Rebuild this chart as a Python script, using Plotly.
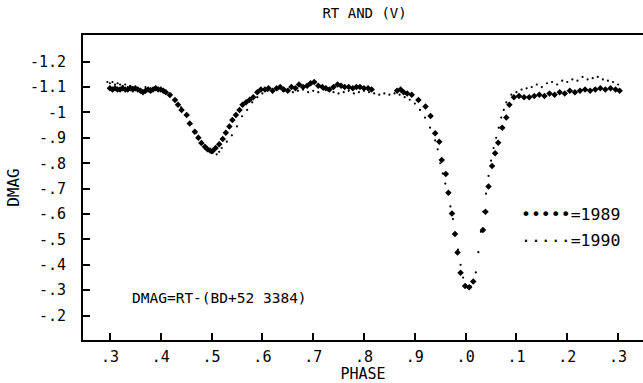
import plotly.graph_objects as go

# ---- data ----
phase_1989 = [0.300, 0.305, 0.310, 0.315, 0.320, 0.325, 0.330, 0.335, 0.340, 0.345,
              0.350, 0.355, 0.360, 0.365, 0.370, 0.375, 0.380, 0.385, 0.390, 0.395,
              0.400, 0.405, 0.410, 0.418, 0.428, 0.434, 0.441, 0.451, 0.457, 0.467,
              0.474, 0.480, 0.487, 0.492, 0.497, 0.502, 0.508, 0.515, 0.522, 0.528,
              0.535, 0.541, 0.548, 0.555, 0.561, 0.568, 0.575, 0.582, 0.590, 0.597,
              0.605, 0.612, 0.620, 0.628, 0.635, 0.642, 0.650, 0.657, 0.665, 0.672,
              0.680, 0.688, 0.695, 0.702, 0.710, 0.718, 0.725, 0.732, 0.740, 0.748,
              0.755, 0.762, 0.770, 0.778, 0.785, 0.792, 0.800, 0.808, 0.815, 0.865,
              0.872, 0.878, 0.885, 0.894, 0.907, 0.921, 0.931, 0.940, 0.948, 0.953,
              0.961, 0.966, 0.973, 0.979, 0.984, 0.990, 0.999, 1.007, 1.015, 1.034,
              1.039, 1.045, 1.052, 1.058, 1.064, 1.072, 1.080, 1.086, 1.095, 1.105,
              1.115, 1.125, 1.135, 1.145, 1.155, 1.165, 1.175, 1.185, 1.195, 1.205,
              1.215, 1.225, 1.235, 1.245, 1.255, 1.265, 1.275, 1.285, 1.295, 1.303]
dmag_1989 = [-1.095, -1.090, -1.095, -1.090, -1.090, -1.095, -1.090, -1.090, -1.095, -1.090,
             -1.095, -1.090, -1.085, -1.080, -1.085, -1.090, -1.085, -1.090, -1.095, -1.090,
             -1.090, -1.085, -1.080, -1.069, -1.049, -1.030, -1.010, -0.990, -0.957, -0.924,
             -0.900, -0.880, -0.865, -0.855, -0.850, -0.848, -0.860, -0.875, -0.895, -0.920,
             -0.945, -0.970, -0.990, -1.010, -1.030, -1.040, -1.050, -1.060, -1.080, -1.090,
             -1.090, -1.095, -1.085, -1.095, -1.100, -1.090, -1.085, -1.100, -1.095, -1.110,
             -1.100, -1.105, -1.115, -1.120, -1.105, -1.100, -1.095, -1.090, -1.100, -1.110,
             -1.105, -1.100, -1.100, -1.095, -1.100, -1.100, -1.095, -1.095, -1.090, -1.085,
             -1.090, -1.080, -1.075, -1.070, -1.049, -1.023, -0.986, -0.918, -0.885, -0.813,
             -0.758, -0.684, -0.602, -0.521, -0.449, -0.369, -0.317, -0.312, -0.334, -0.537,
             -0.609, -0.708, -0.789, -0.839, -0.881, -0.940, -0.980, -1.030, -1.060, -1.065,
             -1.060, -1.060, -1.065, -1.070, -1.065, -1.075, -1.070, -1.080, -1.075, -1.085,
             -1.080, -1.085, -1.090, -1.085, -1.090, -1.095, -1.090, -1.095, -1.090, -1.085]

phase_1990 = [0.295, 0.300, 0.305, 0.310, 0.315, 0.320, 0.325, 0.330, 0.335, 0.340,
              0.345, 0.350, 0.360, 0.370, 0.380, 0.390, 0.400, 0.410, 0.420, 0.430,
              0.440, 0.450, 0.460, 0.470, 0.480, 0.490, 0.500, 0.510, 0.515, 0.520,
              0.530, 0.540, 0.550, 0.560, 0.570, 0.580, 0.590, 0.600, 0.610, 0.620,
              0.630, 0.640, 0.650, 0.660, 0.670, 0.680, 0.690, 0.700, 0.710, 0.720,
              0.730, 0.740, 0.750, 0.760, 0.770, 0.780, 0.790, 0.800, 0.810, 0.820,
              0.830, 0.840, 0.850, 0.860, 0.870, 0.880, 0.890, 0.900, 0.910, 0.920,
              0.930, 0.940, 0.945, 0.950, 0.955, 0.960, 0.965, 0.970, 0.975, 0.980,
              0.985, 0.990, 0.995, 1.000, 1.005, 1.010, 1.015, 1.020, 1.025, 1.030,
              1.035, 1.040, 1.045, 1.050, 1.055, 1.060, 1.065, 1.070, 1.075, 1.080,
              1.090, 1.100, 1.110, 1.120, 1.130, 1.140, 1.150, 1.160, 1.170, 1.180,
              1.190, 1.200, 1.210, 1.220, 1.230, 1.240, 1.250, 1.260, 1.270, 1.280,
              1.290, 1.300]
dmag_1990 = [-1.120, -1.115, -1.120, -1.110, -1.115, -1.110, -1.105, -1.110, -1.100, -1.105,
             -1.100, -1.095, -1.090, -1.100, -1.095, -1.100, -1.090, -1.085, -1.070, -1.050,
             -1.020, -0.990, -0.955, -0.920, -0.885, -0.860, -0.840, -0.835, -0.845, -0.860,
             -0.885, -0.910, -0.945, -0.985, -1.010, -1.040, -1.060, -1.075, -1.085, -1.080,
             -1.090, -1.085, -1.090, -1.080, -1.085, -1.090, -1.080, -1.085, -1.080, -1.090,
             -1.085, -1.080, -1.075, -1.080, -1.085, -1.075, -1.080, -1.085, -1.080, -1.075,
             -1.070, -1.075, -1.070, -1.075, -1.070, -1.060, -1.050, -1.035, -1.010, -0.980,
             -0.940, -0.890, -0.855, -0.800, -0.760, -0.720, -0.680, -0.630, -0.580, -0.520,
             -0.460, -0.400, -0.350, -0.320, -0.310, -0.315, -0.330, -0.370, -0.450, -0.530,
             -0.610, -0.680, -0.750, -0.810, -0.860, -0.900, -0.940, -0.980, -1.010, -1.040,
             -1.070, -1.080, -1.090, -1.095, -1.100, -1.110, -1.100, -1.115, -1.120, -1.110,
             -1.125, -1.120, -1.130, -1.125, -1.140, -1.130, -1.135, -1.140, -1.130, -1.125,
             -1.120, -1.110]

x_tickvals = [0.3, 0.4, 0.5, 0.6, 0.7, 0.8, 0.9, 1.0, 1.1, 1.2, 1.3]
x_ticktext = [".3", ".4", ".5", ".6", ".7", ".8", ".9", ".0", ".1", ".2", ".3"]
y_tickvals = [-1.2, -1.1, -1.0, -0.9, -0.8, -0.7, -0.6, -0.5, -0.4, -0.3, -0.2]
y_ticktext = ["-1.2", "-1.1", "-1", "-.9", "-.8", "-.7", "-.6", "-.5", "-.4", "-.3", "-.2"]

FONT = "DejaVu Sans Mono"

fig = go.Figure()
fig.add_trace(go.Scatter(x=phase_1990, y=dmag_1990, mode="markers", name="1990",
                         marker=dict(symbol="circle", size=2.2, color="black")))
fig.add_trace(go.Scatter(x=phase_1989, y=dmag_1989, mode="markers", name="1989",
                         marker=dict(symbol="diamond", size=5, color="black")))

fig.update_layout(
    width=643, height=383,
    margin=dict(l=83, r=0, t=35, b=43),
    paper_bgcolor="white", plot_bgcolor="white",
    showlegend=False,
    font=dict(family=FONT, size=15, color="black"),
    title=dict(text="RT AND (V)", x=0.567, xanchor="center", y=0.966, yanchor="middle",
               font=dict(family=FONT, size=14, color="black")),
)
fig.update_xaxes(range=[0.247, 1.349], tickvals=x_tickvals, ticktext=x_ticktext,
                 showgrid=False, zeroline=False, showline=True, linewidth=2, linecolor="black",
                 mirror=True, ticks="inside", ticklen=7, tickwidth=1.5, tickcolor="black",
                 ticklabelstandoff=2,
                 title=dict(text="PHASE", standoff=3, font=dict(family=FONT, size=15)))
fig.update_yaxes(range=[-0.104, -1.305], tickvals=y_tickvals, ticktext=y_ticktext,
                 showgrid=False, zeroline=False, showline=True, linewidth=2, linecolor="black",
                 ticks="inside", ticklen=7, tickwidth=1.5, tickcolor="black",
                 ticklabelstandoff=12,
                 title=dict(text="DMAG", standoff=6, font=dict(family=FONT, size=16)))

fig.add_annotation(text="DMAG=RT-(BD+52 3384)", xref="paper", yref="paper",
                   x=0.243, y=0.138, xanchor="center", yanchor="middle", showarrow=False,
                   font=dict(family=FONT, size=14.5))
fig.add_annotation(text="•••••=1989", xref="paper", yref="paper",
                   x=0.778, y=0.41, xanchor="left", yanchor="middle", showarrow=False,
                   font=dict(family=FONT, size=16.5))
fig.add_annotation(text="·····=1990", xref="paper", yref="paper",
                   x=0.778, y=0.3246, xanchor="left", yanchor="middle", showarrow=False,
                   font=dict(family=FONT, size=16.5))

fig.write_html("out.html")
